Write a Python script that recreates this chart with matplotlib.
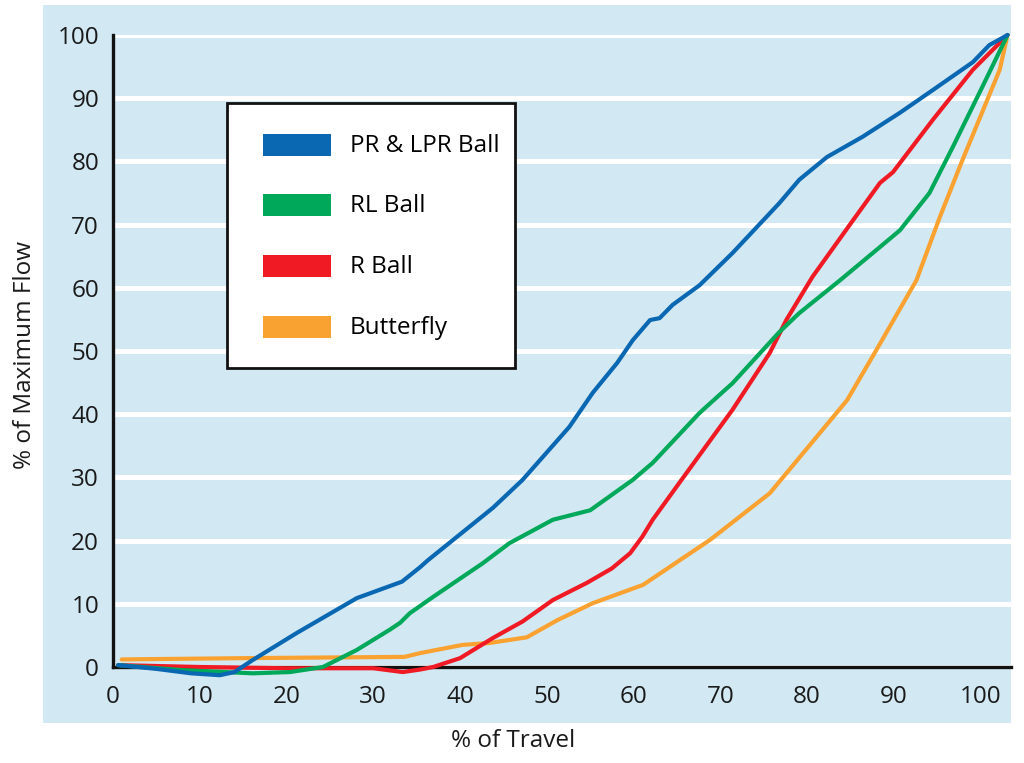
import matplotlib.pyplot as plt
from matplotlib.patches import Patch, Rectangle
from matplotlib.legend_handler import HandlerPatch

# Data (% of travel, % of max flow)
pr_x = [0.6, 5.0, 9.0, 12.3, 14.0, 16.1, 21.2, 28.1, 33.3, 35.4, 36.3, 43.8, 47.2, 52.6, 55.3,
        58.1, 59.9, 61.9, 63.0, 64.5, 67.6, 71.4, 76.8, 79.1, 82.3, 86.4, 90.7, 94.5, 99.1, 101.0, 103.1]
pr_y = [0.3, -0.3, -1.0, -1.3, -0.8, 1.1, 5.4, 10.9, 13.5, 15.8, 16.9, 25.2, 29.6, 38.0, 43.4,
        48.1, 51.7, 54.9, 55.2, 57.3, 60.4, 65.5, 73.4, 77.1, 80.7, 83.9, 87.7, 91.3, 95.7, 98.4, 100.0]

rl_x = [0.6, 8.0, 16.1, 20.4, 24.2, 28.1, 31.9, 33.1, 34.2, 36.9, 42.6, 45.7, 50.7, 55.0, 59.9,
        62.2, 67.6, 71.4, 76.8, 79.1, 83.8, 88.7, 90.7, 94.1, 96.8, 100.2, 103.1]
rl_y = [0.3, -0.5, -1.0, -0.8, 0.0, 2.7, 5.9, 7.0, 8.5, 11.1, 16.4, 19.6, 23.3, 24.8, 29.6,
        32.3, 40.2, 44.9, 53.0, 56.0, 61.2, 66.8, 69.1, 75.0, 82.3, 91.8, 100.0]

r_x = [0.6, 10.0, 20.0, 30.0, 33.4, 35.4, 36.9, 40.0, 43.8, 47.2, 50.7, 54.6, 57.5, 59.6, 61.0,
       62.2, 66.1, 71.4, 75.7, 77.6, 80.6, 85.3, 88.4, 89.9, 94.5, 99.1, 103.1]
r_y = [0.3, 0.0, -0.2, -0.2, -0.8, -0.4, 0.0, 1.4, 4.6, 7.2, 10.6, 13.3, 15.6, 18.0, 20.6,
       23.3, 30.7, 40.7, 49.7, 54.9, 61.7, 70.7, 76.6, 78.3, 86.6, 94.5, 100.0]

bf_x = [1.0, 15.0, 33.6, 35.4, 40.3, 43.4, 47.7, 51.2, 55.3, 61.1, 68.8, 75.7, 84.6, 88.0,
        92.6, 95.3, 97.9, 102.2, 103.1]
bf_y = [1.2, 1.4, 1.6, 2.2, 3.5, 3.8, 4.7, 7.4, 10.1, 13.0, 20.1, 27.5, 42.2, 50.2,
        61.2, 71.2, 80.2, 94.5, 100.0]

labels = ["PR & LPR Ball", "RL Ball", "R Ball", "Butterfly"]
colors = ["#0a67b2", "#00a859", "#f01a24", "#f9a231"]
x_ticks = [0, 10, 20, 30, 40, 50, 60, 70, 80, 90, 100]
y_ticks = [0, 10, 20, 30, 40, 50, 60, 70, 80, 90, 100]

BG = "#d2e9f3"
FONT = 17.5


class SwatchHandler(HandlerPatch):
    """Fixed-size colour swatch, shifted right inside the handle box (sizes in points)."""

    def __init__(self, xoff=15, w=49, h=16, **kw):
        super().__init__(**kw)
        self.xoff, self.w, self.h = xoff, w, h

    def create_artists(self, legend, orig_handle, xdescent, ydescent,
                       width, height, fontsize, trans):
        cy = -ydescent + height / 2
        r = Rectangle((-xdescent + self.xoff, cy - self.h / 2), self.w, self.h,
                      facecolor=orig_handle.get_facecolor(), edgecolor='none', transform=trans)
        return [r]


plt.rcParams['font.family'] = ['Open Sans', 'DejaVu Sans']

fig = plt.figure(figsize=(10.24, 7.63), dpi=100)
fig.patches.append(Rectangle((43 / 1024, 1 - 723 / 763), 968 / 1024, 718 / 763,
                             transform=fig.transFigure, facecolor=BG, edgecolor='none', zorder=-10))

ax = fig.add_axes([113 / 1024, 1 - 667 / 763, 898 / 1024, 632 / 763])
ax.set_zorder(1)
ax.set_facecolor('none')
ax.set_xlim(0, 103.5)
ax.set_ylim(0, 100)

# white horizontal grid
ax.set_axisbelow(True)
ax.yaxis.grid(True, color='white', linewidth=3.6)
ax.xaxis.grid(False)

series = [(bf_x, bf_y, 3), (r_x, r_y, 2), (rl_x, rl_y, 1), (pr_x, pr_y, 0)]
for xs, ys, i in series:
    ax.plot(xs, ys, color=colors[i], linewidth=3.0, clip_on=False,
            solid_joinstyle='round', solid_capstyle='round', zorder=3 + (3 - i))

for s in ['top', 'right']:
    ax.spines[s].set_visible(False)
for s in ['left', 'bottom']:
    ax.spines[s].set_linewidth(2.4)
    ax.spines[s].set_color('#111111')

ax.set_xticks(x_ticks)
ax.set_yticks(y_ticks)
ax.tick_params(axis='both', length=0, labelsize=FONT, colors='#1a1a1a')
ax.tick_params(axis='x', pad=13)
ax.tick_params(axis='y', pad=10)

fig.text(513 / 1024, 1 - 741 / 763, "% of Travel", ha='center', va='center',
         fontsize=FONT, color='#1a1a1a')
fig.text(25 / 1024, 1 - 355 / 763, "% of Maximum Flow", ha='center', va='center',
         rotation=90, fontsize=FONT, color='#1a1a1a')

handles = [Patch(facecolor=c, edgecolor='none') for c in colors]
leg = ax.legend(handles, labels, loc='upper left',
                bbox_to_anchor=(227 / 1024, 1 - 103 / 763), bbox_transform=fig.transFigure,
                borderaxespad=0, fontsize=FONT, frameon=True, fancybox=False,
                handler_map={Patch: SwatchHandler()},
                handlelength=3.66, handleheight=3.0, handletextpad=0.78,
                labelspacing=0.3, borderpad=0.62)
leg.get_frame().set_edgecolor('#111111')
leg.get_frame().set_linewidth(2.0)
leg.get_frame().set_facecolor('white')
leg.get_frame().set_alpha(1.0)
leg.set_zorder(10)

fig.savefig("out.png", dpi=100, facecolor='white')
